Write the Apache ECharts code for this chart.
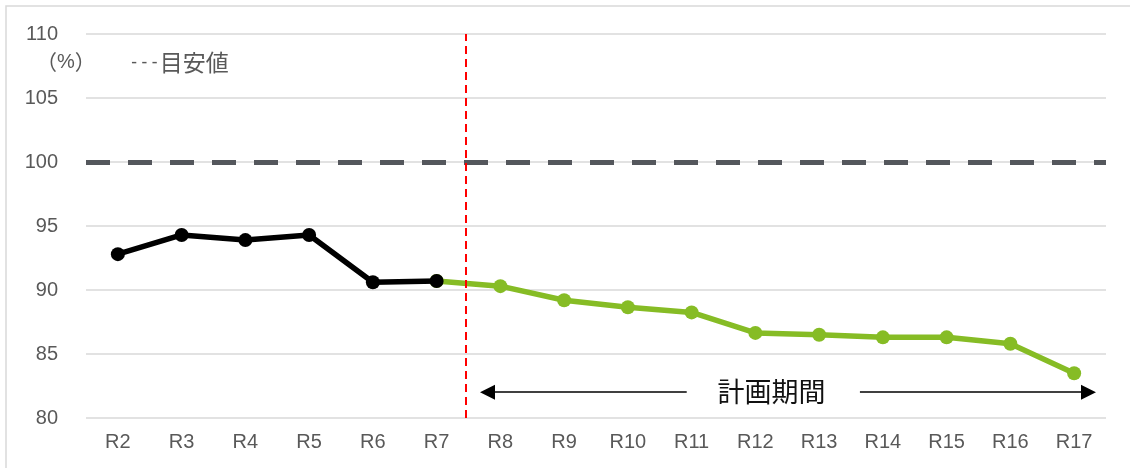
<!DOCTYPE html>
<html>
<head>
<meta charset="utf-8">
<script src="https://cdn.jsdelivr.net/npm/echarts@6/dist/echarts.min.js"></script>
<style>
html,body{margin:0;padding:0;background:#fff;}
#main{width:1130px;height:468px;}
</style>
</head>
<body>
<div id="main"></div>
<script>
// ---- data ----
var categories = ['R2','R3','R4','R5','R6','R7','R8','R9','R10','R11','R12','R13','R14','R15','R16','R17'];
var actualValues = [92.8, 94.3, 93.9, 94.3, 90.6, 90.7, null, null, null, null, null, null, null, null, null, null];
var planValues   = [null, null, null, null, null, 90.7, 90.3, 89.2, 88.65, 88.25, 86.65, 86.5, 86.3, 86.3, 85.8, 83.5];
var targetValue = 100;
var yTicks = {min: 80, max: 110, interval: 5};
var unitOpen = '（', unitSign = '%', unitClose = '）';
var targetDashes = '---';
var targetLegend = '目安値';
var periodLabel = '計画期間';
// plan period boundary and arrow extents in category-index units
var boundaryPos = 5.445;
var arrowY = 82.02;
var arrowLeft = [5.798, 8.923];
var arrowRight = [11.64, 15.225];
var periodLabelPos = 10.253;

var chart = echarts.init(document.getElementById('main'), null, {renderer: 'canvas'});
var labelFont = 'Liberation Sans, Arial, sans-serif';
var jpFont = '"Noto Sans CJK JP", sans-serif';

var option = {
  animation: false,
  backgroundColor: '#ffffff',
  grid: {left: 86, right: 24, top: 34, bottom: 50, containLabel: false},
  xAxis: [
    {
      type: 'category',
      data: categories,
      boundaryGap: true,
      axisLine: {show: false},
      axisTick: {show: false},
      axisLabel: {color: '#595959', fontSize: 20, fontFamily: labelFont, margin: 14},
      splitLine: {show: false}
    },
    {
      type: 'value',
      min: -0.5,
      max: 15.5,
      show: false
    }
  ],
  yAxis: {
    type: 'value',
    min: yTicks.min,
    max: yTicks.max,
    interval: yTicks.interval,
    axisLine: {show: false},
    axisTick: {show: false},
    axisLabel: {color: '#595959', fontSize: 20, fontFamily: labelFont, margin: 28},
    splitLine: {show: true, lineStyle: {color: '#d9d9d9', width: 1.5}}
  },
  graphic: [
    {type: 'rect', shape: {x: 6, y: 6, width: 1140, height: 480}, style: {fill: 'none', stroke: '#d9d9d9', lineWidth: 1.5}, silent: true, z: -10},
    {type: 'text', left: 36, top: 52, style: {
      text: '{p|' + unitOpen + '}{q|' + unitSign + '}{p|' + unitClose + '}',
      fill: '#595959',
      rich: {
        p: {fontSize: 21, fontFamily: jpFont, fill: '#595959', lineHeight: 26},
        q: {fontSize: 20, fontFamily: labelFont, fill: '#595959', lineHeight: 26}
      }
    }},
    {type: 'text', left: 129, top: 51, style: {
      text: '{d|' + targetDashes + '}{t|' + targetLegend + '}',
      fill: '#595959',
      rich: {
        d: {fontSize: 17, fontFamily: '"DejaVu Sans Mono", monospace', fill: '#595959', lineHeight: 26},
        t: {fontSize: 23, fontFamily: jpFont, fill: '#595959', lineHeight: 26}
      }
    }}
  ],
  series: [
    {
      name: 'target',
      type: 'line',
      data: [],
      silent: true,
      markLine: {
        silent: true,
        symbol: 'none',
        label: {show: false},
        lineStyle: {color: '#54575c', width: 5, type: [24, 18]},
        data: [{yAxis: targetValue}],
        z: 3
      }
    },
    {
      name: 'plan',
      type: 'line',
      data: planValues,
      symbol: 'circle',
      symbolSize: 14,
      connectNulls: false,
      lineStyle: {color: '#86bc25', width: 5.5},
      itemStyle: {color: '#86bc25'},
      z: 4
    },
    {
      name: 'actual',
      type: 'line',
      data: actualValues,
      symbol: 'circle',
      symbolSize: 14,
      lineStyle: {color: '#000000', width: 5.5},
      itemStyle: {color: '#000000'},
      z: 5
    },
    {
      name: 'annot',
      type: 'line',
      xAxisIndex: 1,
      yAxisIndex: 0,
      data: [],
      silent: true,
      markLine: {
        silent: true,
        symbol: 'none',
        label: {show: false},
        z: 6,
        data: [
          {xAxis: boundaryPos, lineStyle: {color: '#ff0000', width: 2, type: [8, 5]}},
          [
            {coord: [arrowLeft[0], arrowY], symbol: 'triangle', symbolSize: [15, 15], lineStyle: {color: '#000', width: 1.5, type: 'solid'}},
            {coord: [arrowLeft[1], arrowY], symbol: 'none'}
          ],
          [
            {coord: [arrowRight[0], arrowY], symbol: 'none', lineStyle: {color: '#000', width: 1.5, type: 'solid'}},
            {coord: [arrowRight[1], arrowY], symbol: 'triangle', symbolSize: [15, 15]}
          ]
        ]
      },
      markPoint: {
        silent: true,
        symbol: 'rect',
        symbolSize: 1,
        itemStyle: {color: 'rgba(0,0,0,0)'},
        label: {show: true, position: 'inside', formatter: periodLabel, fontSize: 27, color: '#111', fontFamily: jpFont},
        data: [{coord: [periodLabelPos, arrowY]}]
      }
    }
  ]
};
chart.setOption(option);
</script>
</body>
</html>
